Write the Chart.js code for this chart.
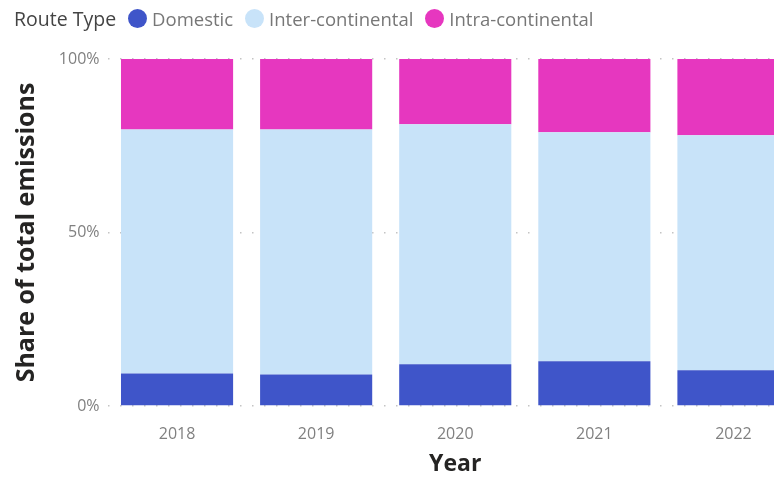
<!DOCTYPE html>
<html>
<head>
<meta charset="utf-8">
<script src="https://cdn.jsdelivr.net/npm/chart.js@4/dist/chart.umd.min.js"></script>
<style>
  html, body { margin: 0; padding: 0; background: #fff; overflow: hidden; }
  #wrap { position: absolute; left: 0; top: 0; width: 803px; height: 478px; }
  #legend {
    position: absolute; left: 14px; top: 4px; height: 28px;
    display: flex; align-items: center; white-space: nowrap;
    font-family: "Open Sans", sans-serif; font-size: 18.5px; color: #777;
  }
  #legend .title { color: #444; margin-right: 12px; font-size: 19.5px; }
  #legend .dot { width: 19px; height: 19px; border-radius: 50%; display: inline-block; margin-right: 5px; }
  #legend .item { display: flex; align-items: center; margin-right: 12px; }
</style>
</head>
<body>
<div id="wrap"><canvas id="chart"></canvas></div>
<div id="legend"><span class="title">Route Type</span></div>
<script>
const years = ["2018", "2019", "2020", "2021", "2022"];
const seriesNames = ["Domestic", "Inter-continental", "Intra-continental"];
const domestic = [9.4, 9.1, 12.0, 12.9, 10.3];
const interContinental = [70.3, 70.6, 69.2, 66.0, 67.7];
const intraContinental = [20.3, 20.3, 18.8, 21.1, 22.0];
const colors = ["#3F55C9", "#C8E3F9", "#E637BF"];
const yTicks = [0, 50, 100];

const values = [domestic, interContinental, intraContinental];

const legend = document.getElementById("legend");
seriesNames.forEach((name, i) => {
  const item = document.createElement("span");
  item.className = "item";
  item.innerHTML = `<span class="dot" style="background:${colors[i]}"></span>${name}`;
  legend.appendChild(item);
});

const ctx = document.getElementById("chart");
new Chart(ctx, {
  type: "bar",
  data: {
    labels: years,
    datasets: seriesNames.map((name, i) => ({
      label: name,
      data: values[i],
      backgroundColor: colors[i],
      borderWidth: 0,
      categoryPercentage: 1,
      barPercentage: 0.806
    }))
  },
  options: {
    responsive: true,
    maintainAspectRatio: false,
    animation: false,
    layout: { padding: { top: 59, left: 0, right: 0, bottom: 0 } },
    plugins: { legend: { display: false }, tooltip: { enabled: false } },
    scales: {
      x: {
        stacked: true,
        grid: { display: false },
        border: { display: false },
        ticks: { color: "#808080", font: { family: "Open Sans", size: 16 }, padding: 11 },
        title: {
          display: true, text: "Year", color: "#252423",
          font: { family: "Open Sans", size: 23, weight: "bold" },
          padding: { top: 0, bottom: 0 }
        },
        afterFit: s => { s.height = 72; }
      },
      y: {
        stacked: true,
        min: 0,
        max: 100,
        afterBuildTicks: s => { s.ticks = yTicks.map(v => ({ value: v })); },
        grid: { color: "#c4c4c4", lineWidth: 1.5, drawTicks: false },
        border: { display: false, dash: [1.5, 10.5] },
        ticks: {
          color: "#808080", font: { family: "Open Sans", size: 16 }, padding: 8,
          callback: v => v + "%"
        },
        title: {
          display: true, text: "Share of total emissions", color: "#252423",
          font: { family: "Open Sans", size: 25, weight: "bold" },
          padding: { top: 12, bottom: 0 }
        },
        afterFit: s => { s.width = 107.5; }
      }
    }
  }
});
</script>
</body>
</html>
